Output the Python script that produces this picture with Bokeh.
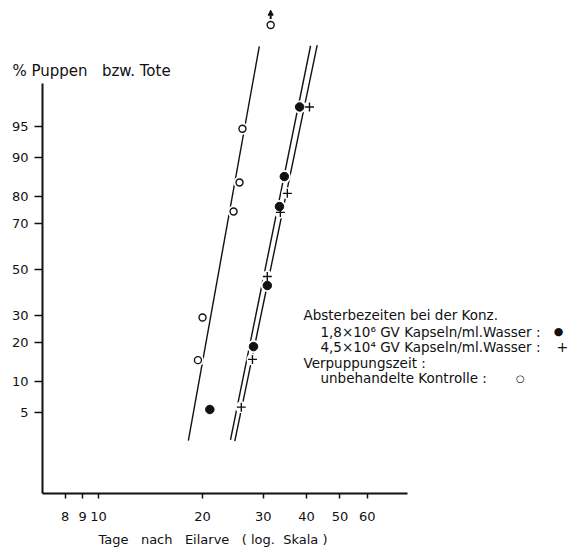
from statistics import NormalDist
from bokeh.plotting import figure
from bokeh.models import Range1d, FixedTicker, CustomJSTickFormatter, Label, Arrow, NormalHead
from bokeh.embed import file_html
from bokeh.resources import INLINE

# ---- data ----
# Verpuppungszeit, unbehandelte Kontrolle (open circles)
ctrl_days = [19.4, 20.0, 24.6, 25.6, 26.1, 31.5]
ctrl_pct = [14.9, 29.1, 74.7, 84.1, 94.7, 99.75]
# Absterbezeiten 1,8x10^6 GV Kapseln/ml Wasser (filled)
high_days = [21.0, 28.1, 30.8, 33.4, 34.5, 38.2]
high_pct = [5.4, 18.8, 42.7, 76.5, 85.7, 96.9]
# Absterbezeiten 4,5x10^4 GV Kapseln/ml Wasser (plus)
low_days = [25.9, 27.9, 30.8, 33.6, 35.2, 40.8]
low_pct = [5.7, 15.1, 46.8, 74.4, 80.9, 96.9]
# fitted lines (end points)
ctrl_line_days = [18.2, 29.2]
ctrl_line_pct = [2.48, 99.48]
high_line_days = [24.1, 41.1]
high_line_pct = [2.53, 99.49]
low_line_days = [24.8, 42.95]
low_line_pct = [2.44, 99.5]

y_ticks_pct = [5, 10, 20, 30, 50, 70, 80, 90, 95]
x_ticks = [8, 9, 10, 20, 30, 40, 50, 60]

FONT = "DejaVu Sans"
INK = "#111111"
NB = "\u00a0"

nd = NormalDist()


def probit(p):
    return nd.inv_cdf(p / 100.0)


def pz(vals):
    return [probit(v) for v in vals]


# axis extents (days, probit units)
X_LO, X_HI = 6.885, 78.4
Z_LO, Z_HI = -2.572, 2.135

p = figure(width=569, height=549, x_axis_type="log",
           x_range=Range1d(5.204, 230.8), y_range=Range1d(-3.2147, 3.0884),
           output_backend="svg", toolbar_location=None,
           min_border_left=0, min_border_right=0, min_border_top=0, min_border_bottom=0)
p.outline_line_color = None
p.grid.visible = False

# x axis
xa = p.xaxis[0]
xa.ticker = FixedTicker(ticks=x_ticks, minor_ticks=[])
xa.formatter = CustomJSTickFormatter(code="return Math.round(tick).toString()")
xa.bounds = (X_LO, X_HI)
xa.fixed_location = Z_LO
xa.major_label_standoff = 13

# y axis (probability scale)
ya = p.yaxis[0]
zt = pz(y_ticks_pct)
ya.ticker = FixedTicker(ticks=zt, minor_ticks=[])
ya.formatter = CustomJSTickFormatter(
    args=dict(zs=zt, labels=[str(v) for v in y_ticks_pct]),
    code="""let b = 0;
for (let i = 0; i < zs.length; i++) {
  if (Math.abs(zs[i] - tick) < Math.abs(zs[b] - tick)) b = i;
}
return labels[b];""")
ya.bounds = (Z_LO, Z_HI)
ya.fixed_location = X_LO
ya.major_label_standoff = 6

for ax in (xa, ya):
    ax.axis_line_width = 2
    ax.axis_line_color = INK
    ax.major_tick_line_color = INK
    ax.major_tick_line_width = 1.5
    ax.major_tick_in = 0
    ax.major_label_text_font = FONT
    ax.major_label_text_font_size = "13px"
    ax.major_label_text_color = INK
xa.major_tick_out = 5
ya.major_tick_out = 8

# fitted lines
for dx, dp in ((ctrl_line_days, ctrl_line_pct), (high_line_days, high_line_pct),
               (low_line_days, low_line_pct)):
    p.line(dx, pz(dp), line_color=INK, line_width=1.4)

# white halos that break the lines around the markers
for dx, dp, s in ((ctrl_days, ctrl_pct, 12), (high_days, high_pct, 13), (low_days, low_pct, 12)):
    p.scatter(dx, pz(dp), marker="circle", size=s, fill_color="white", line_color=None)

# markers
p.scatter(ctrl_days, pz(ctrl_pct), marker="circle", size=7, fill_color="white",
          line_color=INK, line_width=1.4)
p.scatter(high_days, pz(high_pct), marker="circle", size=8.5, fill_color=INK, line_color=INK)
p.scatter(low_days, pz(low_pct), marker="cross", size=9, line_color=INK, line_width=1.4)

# off-scale arrow above the last control point
zc = probit(ctrl_pct[-1])
p.add_layout(Arrow(end=NormalHead(size=5, fill_color=INK, line_color=INK),
                   x_start=ctrl_days[-1], y_start=zc + 0.07,
                   x_end=ctrl_days[-1], y_end=zc + 0.17,
                   line_color=INK, line_width=2))

# axis titles
p.add_layout(Label(x=X_LO, y=probit(98.88), x_offset=-30,
                   text="% Puppen" + NB * 2 + " bzw. Tote",
                   text_font=FONT, text_font_size="15px", text_color=INK,
                   text_baseline="middle"))
p.add_layout(Label(x=10, y=Z_LO, y_offset=-46,
                   text="Tage" + NB * 2 + " nach" + NB * 2 + " Eilarve" + NB * 2 + " (" + NB
                        + "log." + NB * 2 + "Skala" + NB + ")",
                   text_font=FONT, text_font_size="13px", text_color=INK,
                   text_baseline="middle"))

# legend text
lx, ly = 39.2, probit(30)
rows = [
    (0, 0, "Absterbezeiten bei der Konz."),
    (17, 16.5, "1,8\u00d710\u2076 GV Kapseln/ml.Wasser :"),
    (17, 31.5, "4,5\u00d710\u2074 GV Kapseln/ml.Wasser :"),
    (0, 47.5, "Verpuppungszeit :"),
    (17, 63, "unbehandelte Kontrolle :"),
]
for dx, dy, t in rows:
    p.add_layout(Label(x=lx, y=ly, x_offset=dx, y_offset=-dy, text=t,
                       text_font=FONT, text_font_size="13.5px", text_color=INK,
                       text_baseline="middle"))
keys = [(255, 16.5, "\u25cf", "11px"), (259, 31.5, "+", "14px"), (217, 63, "\u25cb", "10px")]
for dx, dy, t, fs in keys:
    p.add_layout(Label(x=lx, y=ly, x_offset=dx, y_offset=-dy, text=t,
                       text_font="DejaVu Sans", text_font_size=fs, text_color=INK,
                       text_baseline="middle", text_align="center"))

open("out.html", "w").write(file_html(p, INLINE))
